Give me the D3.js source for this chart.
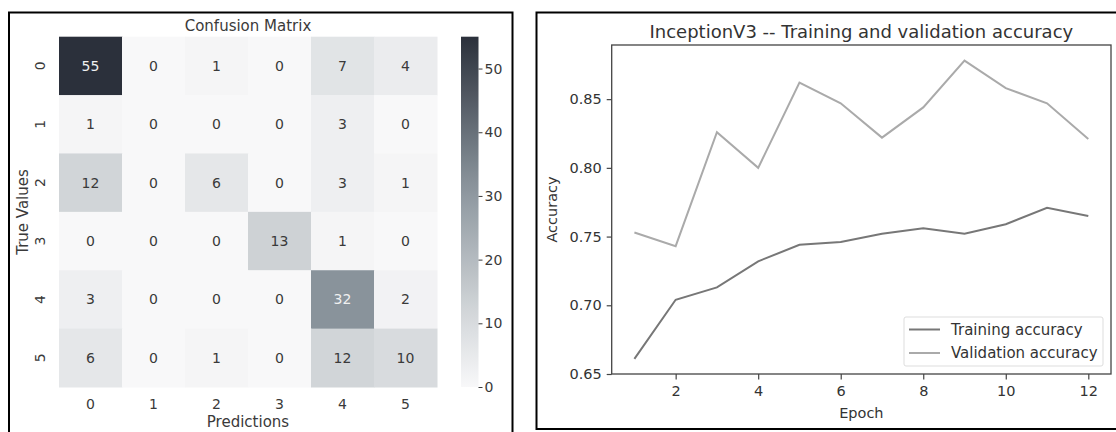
<!DOCTYPE html>
<html>
<head>
<meta charset="utf-8">
<script src="https://cdn.jsdelivr.net/npm/d3@7"></script>
<style>
  body { margin: 0; background: #fff; }
  svg text { font-family: "DejaVu Sans", sans-serif; }
</style>
</head>
<body>
<div id="chart"></div>
<script>
// ---- data ----
var classes = ['0', '1', '2', '3', '4', '5'];
var matrix = [
  [55, 0, 1, 0, 7, 4],
  [1, 0, 0, 0, 3, 0],
  [12, 0, 6, 0, 3, 1],
  [0, 0, 0, 13, 1, 0],
  [3, 0, 0, 0, 32, 2],
  [6, 0, 1, 0, 12, 10]
];
var colorTicks = [0, 10, 20, 30, 40, 50];

var epochs = [1, 2, 3, 4, 5, 6, 7, 8, 9, 10, 11, 12];
var trainAcc = [0.661, 0.704, 0.713, 0.732, 0.744, 0.746, 0.752, 0.756, 0.752, 0.759, 0.771, 0.765];
var valAcc = [0.753, 0.743, 0.826, 0.800, 0.862, 0.847, 0.822, 0.844, 0.878, 0.858, 0.847, 0.821];
var epochTicks = [2, 4, 6, 8, 10, 12];
var accTicks = [0.65, 0.70, 0.75, 0.80, 0.85];

var W = 1116, H = 432;
var svg = d3.select('#chart').append('svg')
  .attr('width', W).attr('height', H);

// panel frames
svg.append('rect').attr('x', 9).attr('y', 12.5).attr('width', 503.5).attr('height', 440)
  .attr('fill', 'none').attr('stroke', '#000').attr('stroke-width', 2);
svg.append('rect').attr('x', 536.5).attr('y', 12.5).attr('width', 600).attr('height', 416.5)
  .attr('fill', 'none').attr('stroke', '#000').attr('stroke-width', 2);

/**
 * Confusion matrix
 */
var x = d3.scaleBand().domain(classes).range([59, 437]);
var y = d3.scaleBand().domain(classes).range([36.7, 387]);
var vmax = d3.max(matrix, function(r) { return d3.max(r); });
var color = d3.scaleLinear()
  .domain([0, vmax * 0.22, vmax * 0.58, vmax])
  .range(['#f8f8f9', '#d1d5d8', '#89939b', '#2b303b']);

var cells = [];
matrix.forEach(function(row, i) {
  row.forEach(function(v, j) { cells.push({ r: classes[i], c: classes[j], v: v }); });
});

var hm = svg.append('g');
hm.selectAll('rect').data(cells).enter().append('rect')
  .attr('x', function(d) { return x(d.c); })
  .attr('y', function(d) { return y(d.r); })
  .attr('width', x.bandwidth() + 0.5)
  .attr('height', y.bandwidth() + 0.5)
  .attr('fill', function(d) { return color(d.v); });

hm.selectAll('text.ann').data(cells).enter().append('text')
  .attr('class', 'ann')
  .attr('x', function(d) { return x(d.c) + x.bandwidth() / 2; })
  .attr('y', function(d) { return y(d.r) + y.bandwidth() / 2; })
  .attr('dy', '0.36em')
  .attr('text-anchor', 'middle')
  .style('font-size', '14px')
  .attr('fill', function(d) { return d.v > vmax * 0.5 ? '#f0f0f0' : '#3a3a3a'; })
  .text(function(d) { return d.v; });

// tick labels
hm.selectAll('text.xt').data(classes).enter().append('text')
  .attr('class', 'xt')
  .attr('x', function(d) { return x(d) + x.bandwidth() / 2; })
  .attr('y', 409)
  .attr('text-anchor', 'middle')
  .style('font-size', '14px').attr('fill', '#3a3a3a')
  .text(String);

hm.selectAll('text.yt').data(classes).enter().append('text')
  .attr('class', 'yt')
  .attr('transform', function(d) { return 'translate(45,' + (y(d) + y.bandwidth() / 2) + ') rotate(-90)'; })
  .attr('text-anchor', 'middle')
  .style('font-size', '14px').attr('fill', '#3a3a3a')
  .text(String);

hm.append('text').attr('x', 248).attr('y', 31)
  .attr('text-anchor', 'middle').style('font-size', '15px').attr('fill', '#3a3a3a')
  .text('Confusion Matrix');
hm.append('text').attr('x', 248).attr('y', 427)
  .attr('text-anchor', 'middle').style('font-size', '15px').attr('fill', '#3a3a3a')
  .text('Predictions');
hm.append('text').attr('transform', 'translate(28,' + 212 + ') rotate(-90)')
  .attr('text-anchor', 'middle').style('font-size', '15px').attr('fill', '#3a3a3a')
  .text('True Values');

// colorbar
var cb = d3.scaleLinear().domain([0, vmax]).range([387, 36.7]);
var grad = svg.append('defs').append('linearGradient')
  .attr('id', 'cbgrad').attr('x1', 0).attr('y1', 1).attr('x2', 0).attr('y2', 0);
d3.range(0, 1.0001, 0.05).forEach(function(t) {
  grad.append('stop').attr('offset', t).attr('stop-color', color(t * vmax));
});
svg.append('rect').attr('x', 461).attr('y', cb(vmax)).attr('width', 17.5)
  .attr('height', cb(0) - cb(vmax)).attr('fill', 'url(#cbgrad)');
var cbAxis = svg.append('g').attr('transform', 'translate(478.5,0)')
  .call(d3.axisRight(cb).tickValues(colorTicks).tickSize(4).tickPadding(2));
cbAxis.select('.domain').remove();
cbAxis.selectAll('line').attr('stroke', '#3a3a3a');
cbAxis.selectAll('text').style('font-size', '14px').attr('fill', '#3a3a3a')
  .style('font-family', '"DejaVu Sans", sans-serif');

/**
 * Accuracy chart
 */
var pLeft = 611.7, pRight = 1111, pTop = 45, pBottom = 374;
var xs = d3.scaleLinear().domain([0.45, 12.55]).range([pLeft, pRight]);
var ys = d3.scaleLinear().domain([0.65, 0.8894]).range([pBottom, pTop]);

var ac = svg.append('g');

var line = d3.line()
  .x(function(d, i) { return xs(epochs[i]); })
  .y(function(d) { return ys(d); });

ac.append('path').datum(trainAcc).attr('d', line)
  .attr('fill', 'none').attr('stroke', '#777').attr('stroke-width', 2);
ac.append('path').datum(valAcc).attr('d', line)
  .attr('fill', 'none').attr('stroke', '#aaa').attr('stroke-width', 2);

ac.append('rect').attr('x', pLeft).attr('y', pTop).attr('width', pRight - pLeft)
  .attr('height', pBottom - pTop).attr('fill', 'none').attr('stroke', '#444').attr('stroke-width', 1.3);

var xa = ac.append('g').attr('transform', 'translate(0,' + pBottom + ')')
  .call(d3.axisBottom(xs).tickValues(epochTicks).tickSize(5.5).tickPadding(6));
var ya = ac.append('g').attr('transform', 'translate(' + pLeft + ',0)')
  .call(d3.axisLeft(ys).tickValues(accTicks).tickFormat(d3.format('.2f')).tickSize(5).tickPadding(5));
[xa, ya].forEach(function(a) {
  a.select('.domain').remove();
  a.selectAll('line').attr('stroke', '#444').attr('stroke-width', 1.2);
  a.selectAll('text').style('font-size', '14.5px').attr('fill', '#333')
    .style('font-family', '"DejaVu Sans", sans-serif');
});

ac.append('text').attr('x', (pLeft + pRight) / 2).attr('y', 38)
  .attr('text-anchor', 'middle').style('font-size', '18px').attr('fill', '#333')
  .text('InceptionV3 -- Training and validation accuracy');
ac.append('text').attr('x', (pLeft + pRight) / 2).attr('y', 418)
  .attr('text-anchor', 'middle').style('font-size', '14.5px').attr('fill', '#333')
  .text('Epoch');
ac.append('text').attr('transform', 'translate(557,' + (pTop + pBottom) / 2 + ') rotate(-90)')
  .attr('text-anchor', 'middle').style('font-size', '14.5px').attr('fill', '#333')
  .text('Accuracy');

// legend
var lg = ac.append('g').attr('transform', 'translate(904,317)');
lg.append('rect').attr('width', 199).attr('height', 49).attr('rx', 2)
  .attr('fill', '#fff').attr('fill-opacity', 0.8).attr('stroke', '#ddd');
var legendItems = [
  { name: 'Training accuracy', color: '#777' },
  { name: 'Validation accuracy', color: '#aaa' }
];
var li = lg.selectAll('g.item').data(legendItems).enter().append('g')
  .attr('class', 'item')
  .attr('transform', function(d, i) { return 'translate(0,' + (12.5 + i * 23.5) + ')'; });
li.append('line').attr('x1', 5).attr('x2', 36)
  .attr('stroke', function(d) { return d.color; }).attr('stroke-width', 2);
li.append('text').attr('x', 47).attr('dy', '0.35em')
  .style('font-size', '15px').attr('fill', '#333')
  .text(function(d) { return d.name; });
</script>
</body>
</html>
